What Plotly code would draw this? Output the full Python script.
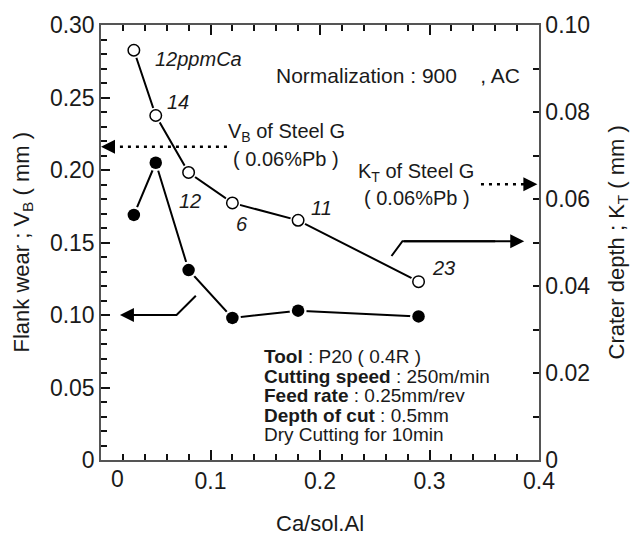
import plotly.graph_objects as go

# ---------------- data ----------------
ca_sol_al = [0.03, 0.05, 0.08, 0.12, 0.18, 0.29]
flank_wear_vb = [0.169, 0.205, 0.131, 0.098, 0.103, 0.099]       # left axis, mm
crater_depth_kt = [0.0942, 0.0792, 0.0661, 0.0591, 0.0551, 0.0410]  # right axis, mm
ca_labels = ["12ppmCa", "14", "12", "6", "11", "23"]

x_tickvals = [0.1, 0.2, 0.3, 0.4]
x_ticktext = ["0.1", "0.2", "0.3", "0.4"]
y1_tickvals = [0, 0.05, 0.10, 0.15, 0.20, 0.25, 0.30]
y1_ticktext = ["0", "0.05", "0.10", "0.15", "0.20", "0.25", "0.30"]
y2_tickvals = [0, 0.02, 0.04, 0.06, 0.08, 0.10]
y2_ticktext = ["0", "0.02", "0.04", "0.06", "0.08", "0.10"]

steel_g_vb = 0.216    # V_B of Steel G (0.06%Pb), left axis
steel_g_kt = 0.0634   # K_T of Steel G (0.06%Pb), right axis

# label placement (pixel offsets from the points)
label_shift = [(19, -9), (9, 13), (-12, -29), (2, -21), (11, 12), (11, 14)]

FONT = "Liberation Sans, Arial, Helvetica, sans-serif"
INK = "#1a1a1a"
AXC = "#555555"
TKC = "#111111"

fig = go.Figure()

# flank wear (filled)
fig.add_trace(go.Scatter(x=ca_sol_al, y=flank_wear_vb, mode="lines",
                         line=dict(color="black", width=2), hoverinfo="skip"))
fig.add_trace(go.Scatter(x=ca_sol_al, y=flank_wear_vb, mode="markers",
                         marker=dict(size=17, color="white"), hoverinfo="skip"))
fig.add_trace(go.Scatter(x=ca_sol_al, y=flank_wear_vb, mode="markers",
                         marker=dict(size=12.5, color="black")))

# crater depth (open)
fig.add_trace(go.Scatter(x=ca_sol_al, y=crater_depth_kt, mode="lines", yaxis="y2",
                         line=dict(color="black", width=2), hoverinfo="skip"))
fig.add_trace(go.Scatter(x=ca_sol_al, y=crater_depth_kt, mode="markers", yaxis="y2",
                         marker=dict(size=16, color="white"), hoverinfo="skip"))
fig.add_trace(go.Scatter(x=ca_sol_al, y=crater_depth_kt, mode="markers", yaxis="y2",
                         marker=dict(size=11.5, color="white",
                                     line=dict(color="black", width=1.5))))

ann = []
# italic Ca labels
for xv, yv, t, (dx, dy) in zip(ca_sol_al, crater_depth_kt, ca_labels, label_shift):
    ann.append(dict(x=xv, y=yv, xref="x", yref="y2", text="<i>%s</i>" % t,
                    showarrow=False, xanchor="left", yanchor="middle",
                    xshift=dx, yshift=dy, font=dict(size=20, color=INK, family=FONT)))

# axis titles
ann.append(dict(x=0, y=0.5, xref="paper", yref="paper", xshift=-79,
                text="Flank wear ; V<sub>B</sub> ( mm )", textangle=-90, showarrow=False,
                xanchor="center", yanchor="middle", font=dict(size=22, color=INK, family=FONT)))
ann.append(dict(x=1, y=0.5, xref="paper", yref="paper", xshift=78,
                text="Crater depth ; K<sub>T</sub> ( mm )", textangle=-90, showarrow=False,
                xanchor="center", yanchor="middle", font=dict(size=22, color=INK, family=FONT)))
ann.append(dict(x=0.5, y=0, xref="paper", yref="paper", yshift=-63,
                text="Ca/sol.Al", showarrow=False,
                xanchor="center", yanchor="middle", font=dict(size=22, color=INK, family=FONT)))
# x "0" tick label (drawn slightly right of the axis as in the original)
ann.append(dict(x=0.0155, y=0, xref="x", yref="paper", yshift=-19,
                text="0", showarrow=False, xanchor="center", yanchor="middle",
                font=dict(size=23, color=INK, family=FONT)))

# Normalization note
ann.append(dict(x=0.158, y=0.2655, xref="x", yref="y", xanchor="left", yanchor="middle",
                text="Normalization : 900\u00a0\u00a0\u00a0\u00a0, AC", showarrow=False,
                font=dict(size=21, color=INK, family=FONT)))

# Steel G annotations
ann.append(dict(x=0.169, y=0.2256, xref="x", yref="y", text="V<sub>B</sub> of Steel G",
                showarrow=False, xanchor="center", yanchor="middle",
                font=dict(size=20, color=INK, family=FONT)))
ann.append(dict(x=0.169, y=0.2078, xref="x", yref="y", text="( 0.06%Pb )",
                showarrow=False, xanchor="center", yanchor="middle",
                font=dict(size=20, color=INK, family=FONT)))
ann.append(dict(x=0.2876, y=0.198, xref="x", yref="y", text="K<sub>T</sub> of Steel G",
                showarrow=False, xanchor="center", yanchor="middle",
                font=dict(size=20, color=INK, family=FONT)))
ann.append(dict(x=0.2890, y=0.1808, xref="x", yref="y", text="( 0.06%Pb )",
                showarrow=False, xanchor="center", yanchor="middle",
                font=dict(size=20, color=INK, family=FONT)))

# conditions box
cond_lines = ["<b>Tool</b> : P20 ( 0.4R )",
              "<b>Cutting speed</b> : 250m/min",
              "<b>Feed rate</b> : 0.25mm/rev",
              "<b>Depth of cut</b> : 0.5mm",
              "Dry Cutting for 10min"]
cond_y = [0.0714, 0.0577, 0.0443, 0.0309, 0.0175]
for t, yy in zip(cond_lines, cond_y):
    ann.append(dict(x=0.1468, y=yy, xref="x", yref="y", text=t, showarrow=False,
                    xanchor="left", yanchor="middle",
                    font=dict(size=19, color=INK, family=FONT)))

# arrowheads
head = dict(showarrow=True, arrowhead=2, arrowsize=1.4, arrowwidth=2,
            arrowcolor="black", text="")
# solid arrow to left axis (flank wear)
ann.append(dict(head, x=0.0173, y=0.100, xref="x", yref="y", ax=0.069, ay=0.100,
                axref="x", ayref="y"))
# solid arrow to right axis (crater depth)
ann.append(dict(head, x=0.3865, y=0.0503, xref="x", yref="y2", ax=0.2753, ay=0.0503,
                axref="x", ayref="y2"))
# dotted arrow heads
ann.append(dict(head, x=0.0, y=steel_g_vb, xref="x", yref="y", ax=14, ay=0))
ann.append(dict(head, x=0.3985, y=steel_g_kt, xref="x", yref="y2", ax=-14, ay=0))

shapes = [
    dict(type="path", xref="x", yref="y", path="M0.0866,0.1133 L0.069,0.100 L0.03,0.100",
         line=dict(color="black", width=2)),
    dict(type="path", xref="x", yref="y2", path="M0.2653,0.0469 L0.2753,0.0503 L0.36,0.0503",
         line=dict(color="black", width=2)),
    dict(type="line", xref="x", yref="y", x0=0.115, x1=0.012, y0=steel_g_vb, y1=steel_g_vb,
         line=dict(color="black", width=2.5, dash="3px,5px")),
    dict(type="line", xref="x", yref="y2", x0=0.347, x1=0.388, y0=steel_g_kt, y1=steel_g_kt,
         line=dict(color="black", width=2.5, dash="3px,5px")),
]

fig.update_layout(
    width=631, height=535, autosize=False,
    margin=dict(l=101, r=92, t=23, b=75, pad=0),
    paper_bgcolor="white", plot_bgcolor="white",
    showlegend=False,
    font=dict(family=FONT, size=23, color=INK),
    annotations=ann, shapes=shapes,
    xaxis=dict(range=[0, 0.4], showgrid=False, zeroline=False,
               showline=True, linecolor=AXC, linewidth=1.5, mirror="ticks",
               ticks="inside", ticklen=10, tickwidth=1.6, tickcolor=TKC,
               tickvals=x_tickvals, ticktext=x_ticktext,
               minor=dict(ticks="inside", dtick=0.02, tick0=0, ticklen=6,
                          tickwidth=1.6, tickcolor=TKC),
               tickfont=dict(size=23)),
    yaxis=dict(range=[0, 0.3], showgrid=False, zeroline=False,
               showline=True, linecolor=AXC, linewidth=1.5,
               ticks="inside", ticklen=9, tickwidth=1.6, tickcolor=TKC,
               tickvals=y1_tickvals, ticktext=y1_ticktext,
               minor=dict(ticks="inside", dtick=0.01, tick0=0, ticklen=6,
                          tickwidth=1.6, tickcolor=TKC),
               tickfont=dict(size=23)),
    yaxis2=dict(range=[0, 0.1], overlaying="y", side="right", showgrid=False,
                zeroline=False, showline=True, linecolor=AXC, linewidth=1.5,
                ticks="inside", ticklen=6, tickwidth=1.6, tickcolor=TKC,
                tickvals=y2_tickvals, ticktext=y2_ticktext,
                minor=dict(ticks="inside", dtick=0.01, tick0=0, ticklen=6,
                           tickwidth=1.6, tickcolor=TKC),
                tickfont=dict(size=23)),
)

fig.write_html("out.html", config={"displayModeBar": False},
               post_script="document.body.style.margin='0';document.body.style.overflow='hidden';")
